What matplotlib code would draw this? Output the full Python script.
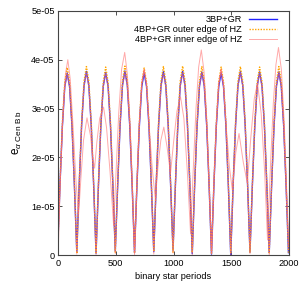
import numpy as np
import matplotlib.pyplot as plt

plt.rcParams['font.family'] = ['Liberation Sans', 'DejaVu Sans']
plt.rcParams['mathtext.fontset'] = 'custom'
plt.rcParams['mathtext.rm'] = 'Liberation Sans'
plt.rcParams['mathtext.it'] = 'Liberation Sans:italic'

# sampling grid in binary star periods (8 samples per secular cycle)
t = np.arange(97) * 20.85 - 5

# eccentricity in units of 1e-05, one row per cycle
blue_e = [
    0.05, 1.43, 2.64, 3.45, 3.73, 3.45, 2.64, 1.43,
    0.06, 1.44, 2.66, 3.47, 3.76, 3.47, 2.66, 1.44,
    0.04, 1.43, 2.65, 3.46, 3.74, 3.46, 2.65, 1.43,
    0.08, 1.44, 2.66, 3.48, 3.77, 3.48, 2.66, 1.44,
    0.05, 1.43, 2.64, 3.45, 3.74, 3.45, 2.64, 1.43,
    0.07, 1.44, 2.66, 3.47, 3.76, 3.47, 2.66, 1.44,
    0.10, 1.44, 2.66, 3.47, 3.76, 3.47, 2.66, 1.44,
    0.03, 1.44, 2.65, 3.46, 3.75, 3.46, 2.65, 1.44,
    0.02, 1.43, 2.64, 3.45, 3.74, 3.45, 2.64, 1.43,
    0.00, 1.44, 2.66, 3.47, 3.76, 3.47, 2.66, 1.44,
    0.06, 1.44, 2.65, 3.46, 3.75, 3.46, 2.65, 1.44,
    0.05, 1.44, 2.65, 3.46, 3.75, 3.46, 2.65, 1.44,
    0.05]

orange_e = [
    0.06, 1.47, 2.72, 3.55, 3.84, 3.55, 2.72, 1.47,
    0.03, 1.48, 2.73, 3.56, 3.86, 3.56, 2.73, 1.48,
    0.05, 1.47, 2.72, 3.55, 3.85, 3.55, 2.72, 1.47,
    0.06, 1.48, 2.74, 3.57, 3.87, 3.57, 2.74, 1.48,
    0.04, 1.47, 2.72, 3.54, 3.83, 3.54, 2.72, 1.47,
    0.07, 1.48, 2.73, 3.56, 3.86, 3.56, 2.73, 1.48,
    0.06, 1.48, 2.74, 3.57, 3.87, 3.57, 2.74, 1.48,
    0.05, 1.48, 2.73, 3.56, 3.86, 3.56, 2.73, 1.48,
    0.04, 1.47, 2.72, 3.55, 3.85, 3.55, 2.72, 1.47,
    0.05, 1.48, 2.73, 3.56, 3.86, 3.56, 2.73, 1.48,
    0.06, 1.47, 2.72, 3.55, 3.85, 3.55, 2.72, 1.47,
    0.05, 1.48, 2.73, 3.56, 3.86, 3.56, 2.73, 1.48,
    0.05]

red_e = [
    0.00, 1.42, 2.62, 3.43, 3.72, 3.43, 2.62, 1.42,
    0.02, 1.43, 2.63, 3.44, 3.73, 3.44, 2.63, 1.43,
    0.00, 1.42, 2.62, 3.43, 3.72, 3.43, 2.62, 1.42,
    0.03, 1.43, 2.64, 3.45, 3.74, 3.45, 2.64, 1.43,
    0.00, 1.45, 2.68, 3.50, 3.80, 3.50, 2.68, 1.45,
    0.02, 1.42, 2.62, 3.43, 3.72, 3.43, 2.62, 1.42,
    0.04, 1.43, 2.63, 3.44, 3.73, 3.44, 2.63, 1.43,
    0.00, 1.43, 2.64, 3.45, 3.74, 3.45, 2.64, 1.43,
    0.02, 1.45, 2.68, 3.50, 3.80, 3.50, 2.68, 1.45,
    0.00, 1.43, 2.64, 3.45, 3.74, 3.45, 2.64, 1.43,
    0.03, 1.42, 2.62, 3.43, 3.72, 3.43, 2.62, 1.42,
    0.00, 1.43, 2.64, 3.45, 3.74, 3.45, 2.64, 1.43,
    0.20]

# second strand of the inner-edge run
red2_t = [0, 20, 42, 63, 84, 105, 130, 155, 177, 198, 220, 250, 280, 300,
          316, 335, 360, 394, 420, 450, 481, 500, 525, 550, 577, 600, 625,
          645, 663, 683, 704, 725, 746, 767, 790, 815, 843, 865, 890, 916,
          945, 974, 1000, 1030, 1061, 1090, 1120, 1148, 1170, 1195, 1218,
          1241, 1265, 1290, 1310, 1330, 1350, 1372, 1392, 1412, 1433, 1458,
          1485, 1510, 1540, 1568, 1605, 1640, 1670, 1700, 1728, 1760, 1790,
          1815, 1840, 1865, 1888, 1910, 1935, 1960, 1980, 1997, 2000]
red2_e = [0.0, 1.6, 2.9, 3.7, 4.0, 3.6, 2.6, 1.5, 0.82, 1.6, 2.35, 2.81,
          2.45, 2.0, 1.78, 2.3, 2.8, 3.03, 2.6, 1.7, 0.6, 1.6, 2.9, 3.8,
          4.15, 3.7, 2.6, 1.3, 0.05, 1.45, 2.7, 3.5, 3.8, 3.45, 2.6, 1.8,
          1.13, 1.8, 2.35, 2.62, 2.2, 1.67, 2.3, 2.95, 3.24, 2.8, 1.7, 0.44,
          1.7, 3.0, 3.85, 4.2, 3.75, 2.7, 1.4, 0.05, 1.45, 2.7, 3.5, 3.8,
          3.45, 2.6, 1.8, 1.33, 2.1, 2.49, 1.9, 1.47, 2.4, 3.2, 3.52, 2.9,
          1.7, 0.31, 1.8, 3.1, 3.9, 4.25, 3.8, 2.7, 1.4, 0.3, 0.1]

yticks = [0, 1e-05, 2e-05, 3e-05, 4e-05, 5e-05]
ytick_labels = ['0', '1e-05', '2e-05', '3e-05', '4e-05', '5e-05']
xticks = [0, 500, 1000, 1500, 2000]

fig = plt.figure(figsize=(3.06, 2.86), dpi=100)
ax = fig.add_axes([0.19, 0.108, 0.754, 0.854])

scale = 1e-05
ax.plot(t, np.array(blue_e) * scale, color='#2020ff', lw=1.0,
        label='3BP+GR')
ax.plot(t, np.array(orange_e) * scale, color='#ffa500', lw=1.0,
        ls=(0, (1, 1)), label='4BP+GR outer edge of HZ')
ax.plot(t, np.array(red_e) * scale, color='#ff7070', lw=0.7, alpha=0.6,
        label='4BP+GR inner edge of HZ')
ax.plot(red2_t, np.array(red2_e) * scale, color='#ff7070', lw=0.7,
        alpha=0.6)

ax.set_xlim(0, 2000)
ax.set_ylim(0, 5e-05)
ax.set_xticks(xticks)
ax.set_yticks(yticks)
ax.set_yticklabels(ytick_labels)
ax.tick_params(direction='in', length=3, width=0.6, labelsize=6.6,
               top=True, right=True, pad=2.5, colors='#333333')
for lab in ax.get_xticklabels() + ax.get_yticklabels():
    lab.set_color('black')
for s in ax.spines.values():
    s.set_color('#444444')
    s.set_linewidth(0.8)

ax.set_xlabel('binary star periods', fontsize=6.6, labelpad=3)
ax.set_ylabel(r'$\mathrm{e}_{\alpha\ \mathrm{Cen\ B\ b}}$', fontsize=8.5,
              labelpad=5)

ax.legend(loc='upper right', bbox_to_anchor=(0.948, 0.984), frameon=False,
          fontsize=6.6, markerfirst=False, handlelength=3.0,
          handletextpad=0.8, labelspacing=0.12, borderpad=0,
          borderaxespad=0)

fig.savefig('out.png', dpi=100)
